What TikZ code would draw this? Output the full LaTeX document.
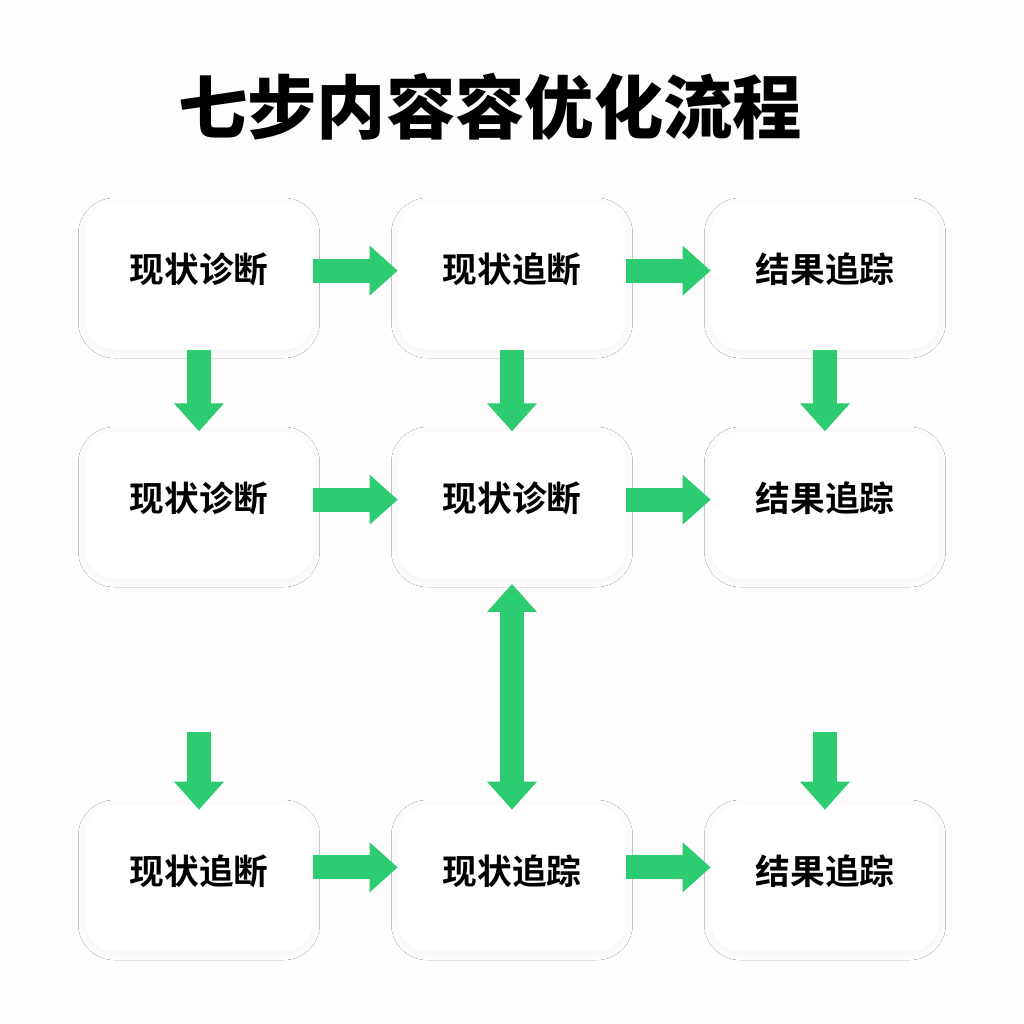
\documentclass[tikz,border=0pt]{standalone}
\usepackage{fontspec}
\newfontfamily\cjk{Noto Sans CJK SC}[BoldFont=* Bold]
\newfontfamily\cjkblack{Noto Sans CJK SC Black}
\usetikzlibrary{arrows.meta,shadows.blur}
\definecolor{flowgreen}{HTML}{2ECC71}
\definecolor{bg}{HTML}{FDFDFD}
\newcommand{\boxtext}[1]{\raisebox{12pt}{#1}}
\tikzset{
  box/.style={draw=none, fill=white, rounded corners=22pt,
    minimum width=171pt, minimum height=110pt, inner sep=0pt,
    font=\cjk\bfseries\fontsize{26}{30}\selectfont,
    blur shadow={shadow xshift=0pt, shadow yshift=-1.5pt, shadow opacity=4, shadow blur radius=5pt, shadow blur steps=10}},
  flow/.style={draw=flowgreen, line width=18pt,
    -{Triangle[width=36pt,length=21pt]}},
  flowboth/.style={draw=flowgreen, line width=18pt,
    {Triangle[width=36pt,length=21pt]}-{Triangle[width=36pt,length=21pt]}}
}
\begin{document}
\begin{tikzpicture}[x=0.75pt,y=-0.75pt]
\fill[bg] (0,0) rectangle (1024,1024);
\useasboundingbox (0,0) rectangle (1024,1024);
\node[font=\cjkblack\fontsize{52}{60}\selectfont] (title) at (490,107) {七步内容容优化流程};
% row 1
\node[box] (a) at (199,276) {\boxtext{现状诊断}};
\node[box] (b) at (512,276) {\boxtext{现状追断}};
\node[box] (c) at (825,276) {\boxtext{结果追踪}};
% row 2
\node[box] (d) at (199,505) {\boxtext{现状诊断}};
\node[box] (e) at (512,505) {\boxtext{现状诊断}};
\node[box] (f) at (825,505) {\boxtext{结果追踪}};
% row 3
\node[box] (g) at (199,878) {\boxtext{现状追断}};
\node[box] (h) at (512,878) {\boxtext{现状追踪}};
\node[box] (i) at (825,878) {\boxtext{结果追踪}};
\coordinate (s1) at (199,732);
\coordinate (s2) at (825,732);
% arrows
\draw[flow] ([yshift=4pt]a.east) -- ([yshift=4pt]b.west);
\draw[flow] ([yshift=4pt]b.east) -- ([yshift=4pt]c.west);
\draw[flow] ([yshift=4pt]d.east) -- ([yshift=4pt]e.west);
\draw[flow] ([yshift=4pt]e.east) -- ([yshift=4pt]f.west);
\draw[flow] ([yshift=8pt]g.east) -- ([yshift=8pt]h.west);
\draw[flow] ([yshift=8pt]h.east) -- ([yshift=8pt]i.west);
\draw[flow] (a.south) -- (d.north);
\draw[flow] (b.south) -- (e.north);
\draw[flow] (c.south) -- (f.north);
\draw[flow] (s1) -- ([yshift=-4pt]g.north);
\draw[flow] (s2) -- ([yshift=-4pt]i.north);
\draw[flowboth] ([yshift=-4pt]e.south) -- ([yshift=-4pt]h.north);
\end{tikzpicture}
\end{document}
